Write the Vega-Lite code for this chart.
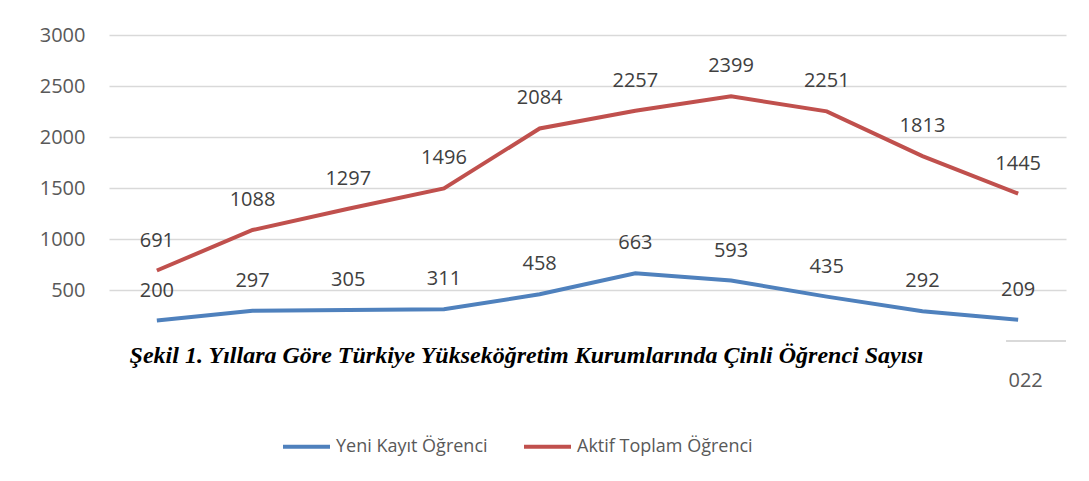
{
  "$schema": "https://vega.github.io/schema/vega-lite/v6.json",
  "width": 957,
  "height": 306,
  "autosize": {"type": "none"},
  "padding": {"left": 109, "top": 35, "right": 23, "bottom": 140},
  "background": "white",
  "config": {"view": {"stroke": null}, "font": "Open Sans"},
  "data": {"values": [
    {"year": "2013", "series": "Yeni Kayıt Öğrenci", "value": 200},
    {"year": "2014", "series": "Yeni Kayıt Öğrenci", "value": 297},
    {"year": "2015", "series": "Yeni Kayıt Öğrenci", "value": 305},
    {"year": "2016", "series": "Yeni Kayıt Öğrenci", "value": 311},
    {"year": "2017", "series": "Yeni Kayıt Öğrenci", "value": 458},
    {"year": "2018", "series": "Yeni Kayıt Öğrenci", "value": 663},
    {"year": "2019", "series": "Yeni Kayıt Öğrenci", "value": 593},
    {"year": "2020", "series": "Yeni Kayıt Öğrenci", "value": 435},
    {"year": "2021", "series": "Yeni Kayıt Öğrenci", "value": 292},
    {"year": "2022", "series": "Yeni Kayıt Öğrenci", "value": 209},
    {"year": "2013", "series": "Aktif Toplam Öğrenci", "value": 691},
    {"year": "2014", "series": "Aktif Toplam Öğrenci", "value": 1088},
    {"year": "2015", "series": "Aktif Toplam Öğrenci", "value": 1297},
    {"year": "2016", "series": "Aktif Toplam Öğrenci", "value": 1496},
    {"year": "2017", "series": "Aktif Toplam Öğrenci", "value": 2084},
    {"year": "2018", "series": "Aktif Toplam Öğrenci", "value": 2257},
    {"year": "2019", "series": "Aktif Toplam Öğrenci", "value": 2399},
    {"year": "2020", "series": "Aktif Toplam Öğrenci", "value": 2251},
    {"year": "2021", "series": "Aktif Toplam Öğrenci", "value": 1813},
    {"year": "2022", "series": "Aktif Toplam Öğrenci", "value": 1445}
  ]},
  "encoding": {
    "x": {
      "field": "year", "type": "ordinal",
      "scale": {"type": "point", "padding": 0.5},
      "axis": {
        "domain": false, "ticks": false, "grid": false,
        "labelAngle": 0,
        "labelExpr": "datum.value == '2022' ? '022' : ''",
        "labelFont": "Open Sans",
        "labelFontSize": 20, "labelColor": "#595959",
        "labelPadding": 29, "labelBaseline": "top", "labelOffset": 7,
        "title": "Şekil 1. Yıllara Göre Türkiye Yükseköğretim Kurumlarında Çinli Öğrenci Sayısı",
        "titleFont": "Liberation Serif", "titleFontStyle": "italic", "titleFontWeight": "bold",
        "titleFontSize": 24, "titleColor": "#000000",
        "titleX": 417, "titleY": 14, "titleAlign": "center", "titleBaseline": "middle", "titleAnchor": null,
        "titleLimit": 0
      }
    },
    "y": {
      "field": "value", "type": "quantitative",
      "scale": {"domain": [0, 3000]},
      "axis": {
        "values": [0, 500, 1000, 1500, 2000, 2500, 3000],
        "domain": false, "ticks": false, "title": null,
        "labelExpr": "datum.value == 0 ? '' : datum.value",
        "labelFontSize": 20, "labelColor": "#595959", "labelPadding": 24,
        "gridColor": "#d9d9d9", "gridWidth": 1.5,
        "gridOpacity": {"condition": {"test": "datum.value === 0", "value": 0}, "value": 1}
      }
    },
    "color": {
      "field": "series", "type": "nominal",
      "scale": {"domain": ["Yeni Kayıt Öğrenci", "Aktif Toplam Öğrenci"], "range": ["#4F81BD", "#C0504D"]},
      "legend": {
        "title": null, "orient": "none", "direction": "horizontal", "columns": 2,
        "legendX": 172, "legendY": 386, "padding": 0,
        "symbolType": "stroke", "symbolSize": 2209, "symbolStrokeWidth": 4,
        "labelFontSize": 18, "labelColor": "#595959", "labelOffset": 4, "columnPadding": 28,
        "labelLimit": 0
      }
    }
  },
  "layer": [
    {
      "mark": {"type": "rule", "color": "#d9d9d9", "strokeWidth": 1.5, "xOffset": -12},
      "encoding": {
        "x": {"datum": "2022", "type": "ordinal"},
        "x2": {"value": "width"},
        "y": {"datum": 0, "type": "quantitative"},
        "color": null
      }
    },
    {"mark": {"type": "line", "strokeWidth": 4}},
    {
      "mark": {"type": "text", "dy": -24, "baseline": "alphabetic", "fontSize": 20, "color": "#404040"},
      "encoding": {"text": {"field": "value", "type": "quantitative"}, "color": {"value": "#404040"}}
    }
  ]
}
